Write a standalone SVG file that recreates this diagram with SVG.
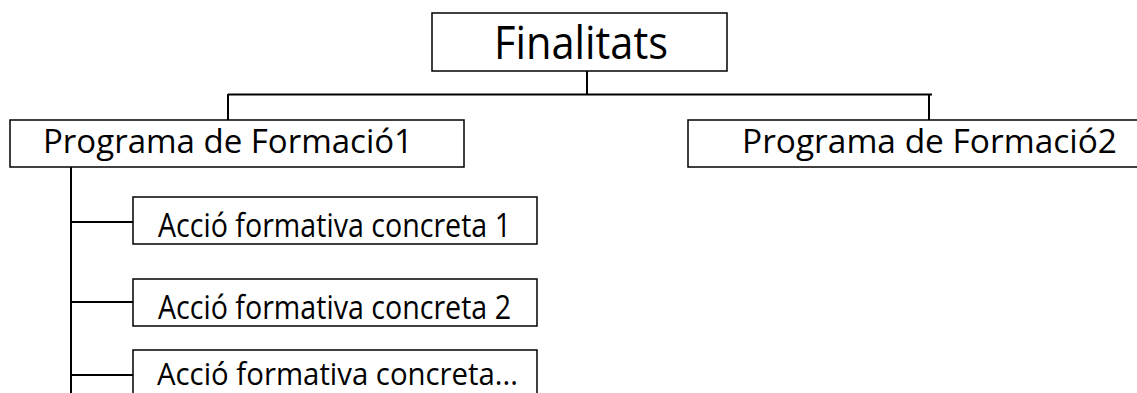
<svg xmlns="http://www.w3.org/2000/svg" width="1137" height="393" viewBox="0 0 1137 393">
<style>
.box{fill:#fff;stroke:#000;stroke-width:1.5}
.ln{fill:none;stroke:#000;stroke-width:2}
.t{font-family:"Open Sans","Noto Sans","Liberation Sans",sans-serif;font-weight:500;fill:#000}
</style>
<rect width="1137" height="393" fill="#fff"/>
<g id="connectors">
<path class="ln" d="M587,71 V94.5 M228,94.5 H932 M228,94 V120 M929,94 V120"/>
<path class="ln" d="M71,167 V393 M71,222 H133 M71,302 H133 M71,375 H133"/>
</g>
<g id="finalitats">
<rect class="box" x="432" y="13" width="295" height="58"/>
<text class="t" x="494" y="59" font-size="45" textLength="174" lengthAdjust="spacingAndGlyphs">Finalitats</text>
</g>
<g id="programa1">
<rect class="box" x="10" y="120" width="454" height="47"/>
<text class="t" x="43" y="153" font-size="33" textLength="370" lengthAdjust="spacingAndGlyphs">Programa de Formació1</text>
</g>
<g id="programa2">
<rect class="box" x="688" y="120" width="460" height="47"/>
<text class="t" x="742" y="153" font-size="33" textLength="375" lengthAdjust="spacingAndGlyphs">Programa de Formació2</text>
</g>
<g id="accio1">
<rect class="box" x="133" y="197" width="404" height="47"/>
<text class="t" x="158" y="237" font-size="33" textLength="353" lengthAdjust="spacingAndGlyphs">Acció formativa concreta 1</text>
</g>
<g id="accio2">
<rect class="box" x="133" y="279" width="404" height="47"/>
<text class="t" x="158" y="319" font-size="33" textLength="353" lengthAdjust="spacingAndGlyphs">Acció formativa concreta 2</text>
</g>
<g id="accio3">
<rect class="box" x="133" y="350" width="404" height="60"/>
<text class="t" x="157" y="385" font-size="31" textLength="361" lengthAdjust="spacingAndGlyphs">Acció formativa concreta...</text>
</g>
</svg>
